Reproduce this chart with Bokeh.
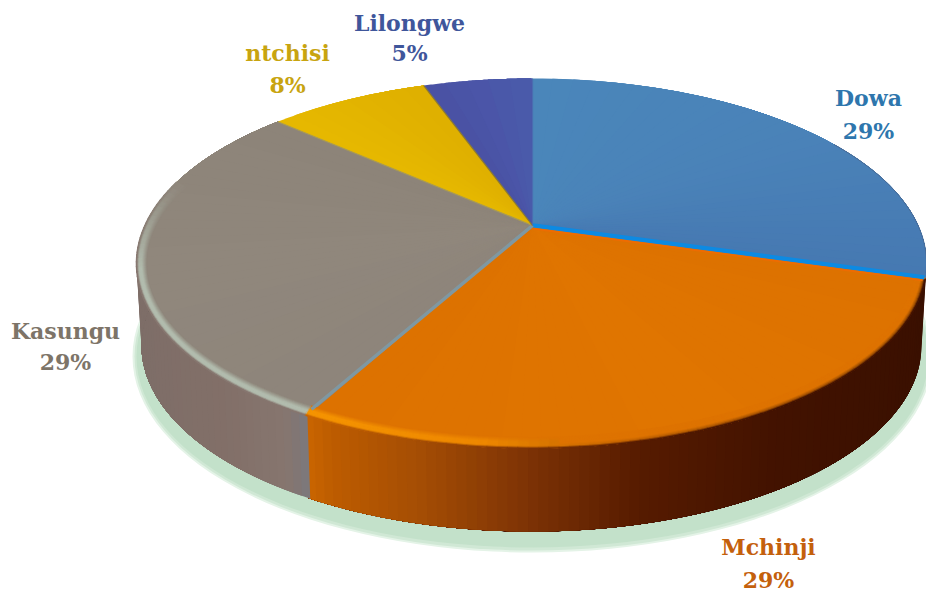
import numpy as np
from bokeh.plotting import figure
from bokeh.models import Range1d
from bokeh.core.properties import value
from bokeh.embed import file_html
from bokeh.resources import INLINE

# Data
categories = ["Dowa", "Mchinji", "Kasungu", "ntchisi", "Lilongwe"]
labels_pct = ["29%", "29%", "29%", "8%", "5%"]
# drawn angular share of each slice, as seen in the picture (percent)
drawn_share = [26.2, 33.4, 29.3, 6.7, 4.4]
text_colors = ["#2e76ad", "#c4600c", "#7d7468", "#c8a410", "#3f569b"]
label_x = [868, 768, 65, 287, 409]
label_y = [[97, 130], [546, 579], [330, 361], [52, 84], [22, 52]]

W, H = 926, 591
CX, CY, RX, RY = 531, 263, 395, 185
AX, AY = 532, 225
BX, BY, BRX, BRY = 531, 345, 390, 186


def hex2rgb(h):
    return np.array([int(h[i:i + 2], 16) for i in (1, 3, 5)], float)


def rgb2hex(c):
    return "#%02x%02x%02x" % tuple(int(round(v)) for v in np.clip(c, 0, 255))


def ramp(t, ts, cols):
    arr = np.array([hex2rgb(c) for c in cols])
    return rgb2hex([np.interp(t, ts, arr[:, i]) for i in range(3)])


def top(th, d=0.0):
    r = np.radians(th)
    return CX + (RX - 0.9 * d) * np.sin(r), CY - (RY - d) * np.cos(r)


def bot(th):
    r = np.radians(th)
    return BX + BRX * np.sin(r), BY - BRY * np.cos(r)


edges = np.concatenate([[0], np.cumsum(drawn_share)]) / np.sum(drawn_share) * 360

p = figure(width=W, height=H, x_range=Range1d(0, 926), y_range=Range1d(591, 0),
           toolbar_location=None, output_backend="svg", min_border=0,
           outline_line_color=None, background_fill_color="white", border_fill_color="white")
p.axis.visible = False
p.grid.visible = False

# green halo beneath the pie
for dx, dy, col in [(400, 196, "#e4f3e7"), (398, 194, "#d0e8d5"), (396, 191, "#c3e1ca")]:
    p.ellipse(x=[BX + 1], y=[BY + 11], width=[2 * dx], height=[2 * dy], fill_color=col, line_color=None)

# side wall: painted from the right, each piece running on to the far end so no seams show
kas_start = edges[2]
wall_end = 281.0
ths = np.concatenate([np.arange(92, kas_start, 1.5), np.arange(kas_start, wall_end, 1.5)])
wx, wy, wc = [], [], []
for a in ths:
    m = a + 0.75
    x = top(m)[0]
    if m < kas_start:
        end = kas_start + 0.3
        c = ramp(x, [310, 330, 420, 530, 640, 780, 926],
                 ["#c86400", "#bd5c00", "#a44d04", "#7c3205", "#561b00", "#421200", "#3a1000"])
    else:
        end = wall_end
        c = ramp(x, [141, 220, 285, 298, 307],
                 ["#7e6e68", "#826f68", "#86766f", "#7f7676", "#7b7a7e"])
    sub = np.linspace(a, end, 60)
    xa, ya = top(sub)
    xb, yb = bot(sub)
    wx.append(list(xa) + list(xb[::-1]))
    wy.append(list(ya) + list(yb[::-1]))
    wc.append(c)
p.patches(wx, wy, fill_color=wc, line_color=None)

# top face: each slice painted as overlapping fans for a soft gradient
shade = {
    0: ["#4a86ba", "#4a82b8", "#4679b2"],
    1: ["#dd7200", "#e07500", "#dd7200"],
    2: ["#8e857b", "#90877c", "#8d8479"],
    3: ["#e6b800", "#e2b400", "#dfb000"],
    4: ["#4a52a4", "#4b55a8", "#4a5aaa"],
}
fx, fy, fc = [], [], []
for i in range(5):
    a0, a1 = edges[i], edges[i + 1]
    steps = max(int((a1 - a0) / 3), 2)
    tt = np.linspace(a0, a1, steps + 1)
    for j in range(steps):
        sub = np.linspace(tt[j], a1, 60)
        ex, ey = top(sub)
        fx.append([AX] + list(ex))
        fy.append([AY] + list(ey))
        fc.append(ramp(j / max(steps - 1, 1), [0, .5, 1], shade[i]))
p.patches(fx, fy, fill_color=fc, line_color=None)

# soft bevel along the front rim, drawn as short strokes at growing distance from the edge
depths = np.arange(11.0, -0.5, -1.0)
mx, my, mc = [], [], []
th2 = np.arange(95, 296, 1.5)
for d in depths:
    u = d / 11.0
    for a in th2:
        b = a + 1.5
        m = a + 0.75
        x = top(m)[0]
        if m < kas_start:
            peak = ramp(x, [310, 480, 620, 760, 926], ["#f59400", "#ee8800", "#c46400", "#a85400", "#a05000"])
            wall = ramp(x, [310, 420, 530, 640, 780], ["#c86400", "#a44d04", "#7c3205", "#561b00", "#421200"])
            if x < 560:
                c = ramp(u, [0, 0.2, 0.55, 1], [wall, peak, peak, "#de7300"])
            else:
                c = ramp(u, [0, 0.18, 0.42, 1], [wall, peak, "#de7300", "#de7300"])
        else:
            fade = float(np.clip((296 - m) / 28, 0, 1))
            fbase = hex2rgb("#8f877c")
            peak = rgb2hex(fbase + (hex2rgb("#b2bcae") - fbase) * fade)
            wall = rgb2hex(fbase + (hex2rgb("#86766f") - fbase) * fade)
            c = ramp(u, [0, 0.2, 0.5, 1], [wall, peak, peak, "#8f877c"])
        xs, ys = top(np.array([a, b]), d)
        mx.append(list(xs))
        my.append(list(ys))
        mc.append(c)
p.multi_line(mx, my, line_color=mc, line_width=1.6, line_cap="round")

# seams between slices
ex, ey = top(edges[1], 1.0)
p.line([AX, ex], [AY, ey], line_color="#0d8ae2", line_width=4.5)
ex2, ey2 = top(edges[1], 3.0)
p.line([AX, ex2], [AY + 3, ey2 + 3], line_color="#ee6c00", line_width=2)
ex, ey = top(edges[2], 8.0)
p.line([AX, ex], [AY, ey], line_color="#7f98a2", line_width=3.5)
ex, ey = top(edges[3])
p.line([AX, ex], [AY, ey], line_color="#a89a55", line_width=1.2)
ex, ey = top(edges[4])
p.line([AX, ex], [AY, ey], line_color="#8c7a30", line_width=1.2)
p.line([AX, AX], [AY, top(0)[1]], line_color="#4a6cb0", line_width=1.2)
arc = np.linspace(50, 93, 40)
ax_, ay_ = top(arc)
p.line(ax_, ay_, line_color="#4a6a95", line_width=1)

# labels
for i, name in enumerate(categories):
    for txt, yy in zip([name, labels_pct[i]], label_y[i]):
        p.text(x=[label_x[i]], y=[yy], text=[txt], text_font=value("DejaVu Serif"),
               text_font_style="bold", text_font_size="22px", text_color=text_colors[i],
               text_align="center", text_baseline="middle")

open("out.html", "w").write(file_html(p, INLINE))
